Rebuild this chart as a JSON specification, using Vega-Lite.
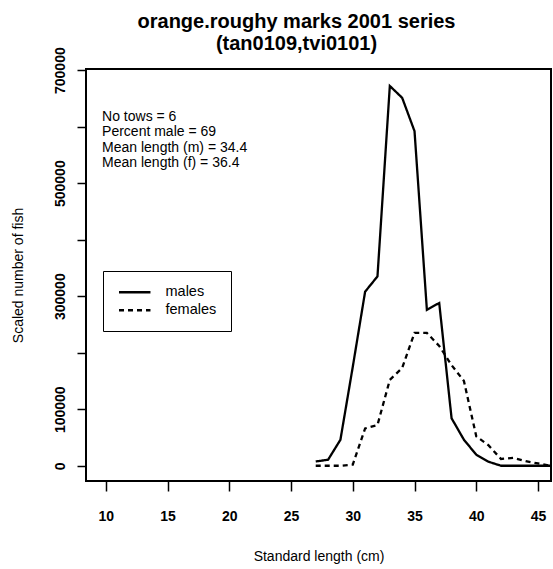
{
  "$schema": "https://vega.github.io/schema/vega-lite/v6.json",
  "autosize": "none",
  "width": 465,
  "height": 412,
  "padding": {"left": 86, "top": 69, "right": 2, "bottom": 88},
  "background": "white",
  "config": {
    "font": "Liberation Sans",
    "view": {"stroke": "black", "strokeWidth": 2},
    "axis": {"grid": false, "domain": false, "tickColor": "black", "tickWidth": 1.5, "labelColor": "black", "titleColor": "black", "labelFont": "Liberation Sans", "titleFont": "Liberation Sans"}
  },
  "title": {
    "text": ["orange.roughy marks 2001 series", "(tan0109,tvi0101)"],
    "fontSize": 20,
    "fontWeight": "bold",
    "lineHeight": 21.5,
    "anchor": "middle",
    "dx": -22,
    "offset": -7,
    "color": "black"
  },
  "layer": [
    {
      "data": {
        "values": [
          {"len": 27, "n": 7600, "sex": "males"},
          {"len": 28, "n": 10600, "sex": "males"},
          {"len": 29, "n": 46000, "sex": "males"},
          {"len": 30, "n": 175000, "sex": "males"},
          {"len": 31, "n": 308000, "sex": "males"},
          {"len": 32, "n": 335000, "sex": "males"},
          {"len": 33, "n": 672000, "sex": "males"},
          {"len": 34, "n": 651000, "sex": "males"},
          {"len": 35, "n": 592000, "sex": "males"},
          {"len": 36, "n": 276000, "sex": "males"},
          {"len": 37, "n": 288000, "sex": "males"},
          {"len": 38, "n": 84000, "sex": "males"},
          {"len": 39, "n": 46000, "sex": "males"},
          {"len": 40, "n": 19500, "sex": "males"},
          {"len": 41, "n": 7000, "sex": "males"},
          {"len": 42, "n": 0, "sex": "males"},
          {"len": 43, "n": 0, "sex": "males"},
          {"len": 44, "n": 0, "sex": "males"},
          {"len": 45, "n": 0, "sex": "males"},
          {"len": 46, "n": 0, "sex": "males"},
          {"len": 27, "n": 0, "sex": "females"},
          {"len": 28, "n": 0, "sex": "females"},
          {"len": 29, "n": 0, "sex": "females"},
          {"len": 30, "n": 2000, "sex": "females"},
          {"len": 31, "n": 66000, "sex": "females"},
          {"len": 32, "n": 72000, "sex": "females"},
          {"len": 33, "n": 152000, "sex": "females"},
          {"len": 34, "n": 173000, "sex": "females"},
          {"len": 35, "n": 235000, "sex": "females"},
          {"len": 36, "n": 235000, "sex": "females"},
          {"len": 37, "n": 212000, "sex": "females"},
          {"len": 38, "n": 178000, "sex": "females"},
          {"len": 39, "n": 150000, "sex": "females"},
          {"len": 40, "n": 52000, "sex": "females"},
          {"len": 41, "n": 36000, "sex": "females"},
          {"len": 42, "n": 12000, "sex": "females"},
          {"len": 43, "n": 14000, "sex": "females"},
          {"len": 44, "n": 8000, "sex": "females"},
          {"len": 45, "n": 4000, "sex": "females"},
          {"len": 46, "n": 0, "sex": "females"}
        ]
      },
      "mark": {"type": "line", "color": "black", "strokeWidth": 2.3},
      "encoding": {
        "x": {
          "field": "len", "type": "quantitative",
          "scale": {"domain": [8.4, 46.05], "nice": false, "zero": false},
          "axis": {
            "values": [10, 15, 20, 25, 30, 35, 40, 45],
            "tickSize": 10,
            "labelFontSize": 14, "labelFontWeight": "bold", "labelPadding": 18,
            "title": "Standard length (cm)", "titleFontSize": 14, "titleFontWeight": "normal", "titlePadding": 26
          }
        },
        "y": {
          "field": "n", "type": "quantitative",
          "scale": {"domain": [-27000, 702000], "nice": false, "zero": false},
          "axis": {
            "values": [0, 100000, 200000, 300000, 400000, 500000, 600000, 700000],
            "labelExpr": "datum.value == 0 || (datum.value / 100000) % 2 == 1 ? datum.value : ''",
            "tickSize": 9,
            "labelAngle": -90,
            "labelAlign": "center",
            "labelBaseline": "bottom",
            "labelFontSize": 14, "labelFontWeight": "bold", "labelPadding": 10,
            "title": "Scaled number of fish", "titleFontSize": 14, "titleFontWeight": "normal", "titlePadding": 28
          }
        },
        "strokeDash": {
          "field": "sex", "type": "nominal",
          "scale": {"domain": ["males", "females"], "range": [[1, 0], [5, 4]]},
          "legend": {
            "orient": "none", "legendX": 17, "legendY": 202,
            "title": null,
            "fillColor": "white", "strokeColor": "black",
            "padding": 14,
            "symbolType": "M-1,0H5", "symbolSize": 110, "symbolStrokeWidth": 2.3, "symbolStrokeColor": "black",
            "labelFontSize": 14.5, "labelColor": "black", "labelOffset": 34,
            "rowPadding": 3
          }
        }
      }
    },
    {
      "data": {"values": [{}]},
      "mark": {
        "type": "text",
        "text": ["No tows = 6", "Percent male = 69", "Mean length (m) = 34.4", "Mean length (f) = 36.4"],
        "align": "left", "baseline": "middle", "fontSize": 14, "lineHeight": 15.3, "color": "black"
      },
      "encoding": {
        "x": {"datum": 9.7, "type": "quantitative"},
        "y": {"datum": 617000, "type": "quantitative"}
      }
    }
  ]
}
